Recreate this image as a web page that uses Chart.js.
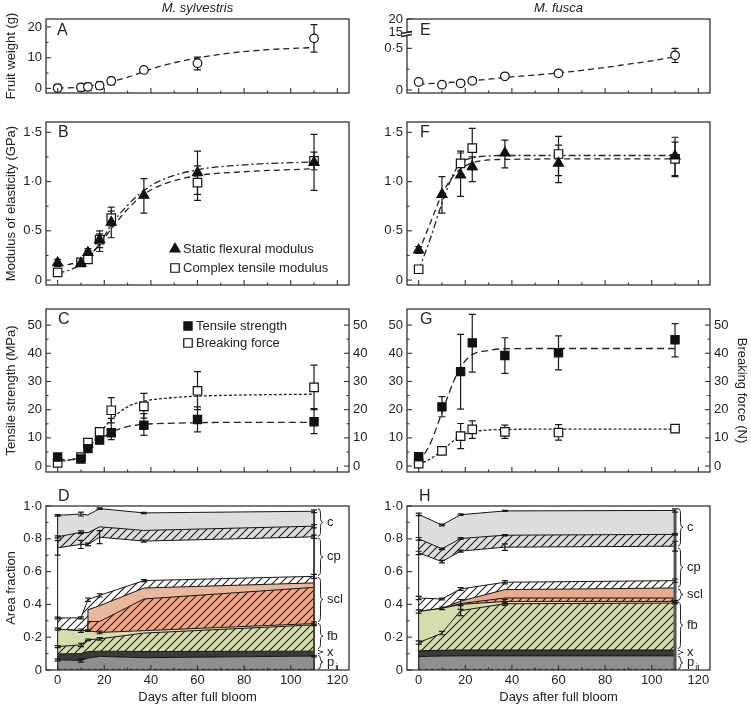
<!DOCTYPE html>
<html><head><meta charset="utf-8">
<script src="https://cdn.jsdelivr.net/npm/chart.js@4.4.1/dist/chart.umd.min.js"></script>
<style>
html,body{margin:0;padding:0;background:#fff;}
#wrap{position:relative;width:751px;height:705px;overflow:hidden;background:#fff;}
#wrap canvas{position:absolute;left:0;top:0;}
</style>
</head><body><div id="wrap"></div>
<script>
// ---------------- DATA ----------------
const xTicks = [0,10,20,30,40,50,60,70,80,90,100,110,120];
const xLabelled = [0,20,40,60,80,100,120];

const aTicks = [0,5,10,15,20];           const aLabels = ['0','','10','','20'];
const eTicks = [0,0.25,0.5,0.696,0.852]; const eLabels = ['0','','0·5','15','20'];
const bTicks = [0,0.25,0.5,0.75,1,1.25,1.5]; const bLabels = ['0','','0·5','','1·0','','1·5'];
const cTicks = [0,5,10,15,20,25,30,35,40,45,50]; const cLabels = ['0','','10','','20','','30','','40','','50'];
const dTicks = [0,0.1,0.2,0.3,0.4,0.5,0.6,0.7,0.8,0.9,1.0]; const dLabels = ['0','','0·2','','0·4','','0·6','','0·8','','1·0'];

const sylDays = [0,10,13,18,23,37,60,110];
const fusDays = [0,10,18,23,37,60,110];

// A: M. sylvestris fruit weight (g)
const sylWeight   = [0.1,0.3,0.5,0.9,2.4,6.0,8.2,16.3];
const sylWeightLo = [-1.1,-0.9,-0.7,-0.3,1.2,5.3,6.0,11.8];
const sylWeightHi = [1.3,1.5,1.7,2.1,3.6,6.7,10.2,20.8];
const aFitDays = [0,10,13,18,23,30,37,45,60,75,90,110];
const aFit     = [0.1,0.4,0.7,1.3,2.2,3.6,5.5,7.4,9.9,11.6,12.6,13.3];

// E: M. fusca fruit weight (g)
const fusWeight   = [0.096,0.064,0.08,0.11,0.164,0.2,0.416];
const fusWeightLo = [0.08,0.05,0.065,0.095,0.15,0.19,0.33];
const fusWeightHi = [0.11,0.078,0.095,0.125,0.178,0.21,0.50];
const eFitDays = [0,10,20,30,37,50,60,70,80,90,100,110];
const eFit     = [0.07,0.085,0.105,0.13,0.15,0.18,0.205,0.235,0.27,0.31,0.35,0.40];

// B: M. sylvestris modulus (GPa)
const sylFlex   = [0.176,0.17,0.28,0.41,0.586,0.86,1.09,1.195];
const sylFlexLo = [0.14,0.14,0.24,0.29,0.43,0.68,0.87,0.91];
const sylFlexHi = [0.21,0.2,0.32,0.5,0.74,1.03,1.31,1.48];
const sylModDays = [0,10,13,18,23,60,110];
const sylMod   = [0.078,0.18,0.21,0.41,0.63,0.99,1.21];
const sylModLo = [0.06,0.15,0.17,0.33,0.55,0.81,1.12];
const sylModHi = [0.10,0.21,0.30,0.47,0.70,1.16,1.30];
const bFitDays = [0,5,10,13,18,23,30,37,45,60,80,110];
const bFitFlex = [0.14,0.16,0.19,0.24,0.36,0.52,0.72,0.87,0.97,1.06,1.10,1.13];
const bFitMod  = [0.07,0.10,0.16,0.22,0.37,0.56,0.76,0.91,1.02,1.12,1.17,1.20];

// F: M. fusca modulus (GPa)
const fusFlex   = [0.305,0.87,1.067,1.15,1.29,1.185,1.26];
const fusFlexLo = [0.27,0.68,0.85,1.0,1.14,0.99,1.06];
const fusFlexHi = [0.34,1.05,1.31,1.25,1.42,1.37,1.45];
const fusModDays = [0,18,23,60,110];
const fusMod   = [0.11,1.185,1.34,1.28,1.23];
const fusModLo = [0.09,1.05,1.12,1.06,1.05];
const fusModHi = [0.13,1.29,1.54,1.46,1.40];
const fFitDays = [0,5,10,15,18,23,30,37,60,110];
const fFitFlex = [0.28,0.58,0.87,1.06,1.13,1.19,1.22,1.225,1.23,1.23];
const fFitMod  = [0.10,0.42,0.78,1.08,1.19,1.24,1.26,1.265,1.265,1.265];

// C: M. sylvestris tensile strength (MPa) / breaking force (N)
const sylStrength   = [3.2,2.5,6.2,9.2,11.8,14.5,16.5,15.7];
const sylStrengthLo = [2.5,1.8,5.3,8.0,9.4,10.9,12.1,11.5];
const sylStrengthHi = [4.0,3.2,7.0,10.5,16.9,18.6,21.0,20.4];
const sylForce   = [1.1,3.2,8.3,12.1,19.8,21.2,26.7,27.9];
const sylForceLo = [0.5,2.5,7.3,10.8,15.3,17.0,20.0,20.0];
const sylForceHi = [1.7,4.0,9.3,13.4,24.3,25.8,33.5,35.8];
const cFitDays = [0,5,10,13,18,23,30,37,50,60,80,110];
const cFitStrength = [2.5,2.2,3.0,5.0,9.0,12.0,14.0,14.8,15.2,15.4,15.5,15.5];
const cFitForce    = [1.5,2.2,3.5,6.0,11.5,16.5,21.0,23.0,24.3,24.8,25.2,25.5];

// G: M. fusca tensile strength (MPa) / breaking force (N)
const fusStrength   = [3.3,21.0,33.5,43.7,39.2,40.2,44.8];
const fusStrengthLo = [2.5,17.5,20.2,33.3,32.9,34.1,38.7];
const fusStrengthHi = [4.1,24.6,46.7,53.8,45.5,46.2,50.5];
const fusForce   = [0.9,5.4,10.6,13.0,12.1,11.9,13.3];
const fusForceLo = [0.3,4.8,6.2,9.8,9.8,9.2,12.1];
const fusForceHi = [1.5,6.0,15.1,16.0,14.5,14.7,14.5];
const gFitDays = [0,5,10,15,18,22,30,37,60,110];
const gFitStrength = [1.0,8.0,19.0,30.0,35.0,39.0,41.0,41.6,41.7,41.7];
const gFitForce    = [0.5,2.5,5.5,9.0,10.8,12.0,12.8,13.0,13.1,13.1];

// D: M. sylvestris area fraction boundaries (cumulative)
const dDays = [0,10,13,13,18,37,110];
const dBase       = [0,0,0,0,0,0,0];
const dBottomDash = [0.004,0.004,0.004,0.004,0.004,0.004,0.004];
const dPTop        = [0.062,0.058,0.072,0.072,0.083,0.075,0.085];
const dXTop        = [0.098,0.100,0.112,0.112,0.115,0.113,0.115];
const dFbHatchTop  = [0.143,0.153,0.184,0.184,0.190,0.225,0.275];
const dFbTop       = [0.249,0.240,0.240,0.240,0.229,0.240,0.283];
const dSclHatchTop = [0.249,0.240,0.240,0.296,0.296,0.433,0.504];
const dSclTop      = [0.249,0.240,0.240,0.367,0.392,0.500,0.531];
const dWhiteTop    = [0.317,0.318,0.429,0.429,0.455,0.545,0.571];
const dCpTop       = [0.745,0.766,0.766,0.766,0.810,0.786,0.812];
const dCHatchTop   = [0.812,0.840,0.837,0.837,0.873,0.851,0.877];
const dCTop        = [0.943,0.951,0.945,0.945,0.984,0.958,0.968];
const dPTopErr     = [0.006,0.010,0,0,0,0,0.005];
const dFbHatchErr  = [0.006,0.010,0.005,0,0.008,0,0.005];
const dFbTopErr    = [0.006,0.010,0.005,0,0.008,0,0.010];
const dWhiteErr    = [0.005,0.006,0.010,0,0.010,0.006,0.012];
const dCpErr       = [0.045,0.025,0.008,0,0.040,0.006,0.010];
const dCHatchErr   = [0.006,0.008,0,0,0,0,0.010];
const dCTopErr     = [0.005,0.012,0,0,0.005,0.004,0.008];
const dBraceFrom = [0.81,0.57,0.29,0.125,0.095,0];
const dBraceTo   = [0.99,0.81,0.57,0.29,0.125,0.095];
const braceLabels = ['c','cp','scl','fb','x','p'];

// H: M. fusca area fraction boundaries (cumulative)
const hDays = [0,10,18,37,110];
const hBase       = [0,0,0,0,0];
const hBottomDash = [0.004,0.004,0.004,0.004,0.004];
const hPTop        = [0.082,0.085,0.086,0.086,0.086];
const hXTop        = [0.118,0.120,0.122,0.122,0.122];
const hFbHatchTop  = [0.167,0.225,0.362,0.404,0.408];
const hFbTop       = [0.357,0.376,0.400,0.418,0.418];
const hSclHatchTop = [0.357,0.376,0.405,0.439,0.439];
const hSclTop      = [0.357,0.376,0.420,0.490,0.500];
const hWhiteTop    = [0.439,0.433,0.494,0.535,0.545];
const hCpTop       = [0.714,0.661,0.725,0.749,0.755];
const hCHatchTop   = [0.800,0.739,0.802,0.822,0.827];
const hCTop        = [0.949,0.884,0.947,0.970,0.973];
const hFbHatchErr  = [0.010,0.010,0.030,0.010,0.005];
const hFbTopErr    = [0.010,0.008,0.030,0.012,0.005];
const hWhiteErr    = [0.010,0.005,0.008,0.010,0.010];
const hCpErr       = [0.010,0.008,0.006,0.020,0.030];
const hCHatchErr   = [0.008,0.005,0.005,0.004,0.005];
const hCTopErr     = [0.008,0.005,0.005,0.003,0.010];
const hBraceFrom = [0.75,0.50,0.42,0.125,0.09,0];
const hBraceTo   = [0.99,0.75,0.50,0.42,0.125,0.09];

// ---------------- HELPERS ----------------
const FF = "'Liberation Sans', Arial, Helvetica, sans-serif";
Chart.defaults.font.family = FF;
Chart.defaults.font.size = 13;
Chart.defaults.color = '#222';

const pts = (xs, ys) => xs.map((x, i) => ({x, y: ys[i]}));

function hatch(bg) {
  const c = document.createElement('canvas'); c.width = 8; c.height = 8;
  const g = c.getContext('2d');
  g.fillStyle = bg; g.fillRect(0, 0, 8, 8);
  g.strokeStyle = '#1e1e1e'; g.lineWidth = 1.1;
  g.beginPath();
  g.moveTo(0, 8); g.lineTo(8, 0);
  g.moveTo(-2, 2); g.lineTo(2, -2);
  g.moveTo(6, 10); g.lineTo(10, 6);
  g.stroke();
  return g.createPattern(c, 'repeat');
}

function marker(ctx, style, filled, x, y, r) {
  ctx.beginPath();
  if (style === 'triangle') { ctx.moveTo(x, y - r); ctx.lineTo(x + r * 0.866, y + r / 2); ctx.lineTo(x - r * 0.866, y + r / 2); ctx.closePath(); }
  else if (style === 'rect') { const s = r * Math.SQRT1_2; ctx.rect(x - s, y - s, 2 * s, 2 * s); }
  else ctx.arc(x, y, r, 0, Math.PI * 2);
  ctx.fillStyle = filled ? '#111' : '#fff'; ctx.fill();
  ctx.strokeStyle = '#111'; ctx.lineWidth = 1.2; ctx.stroke();
}

function drawErrors(chart) {
  const ctx = chart.ctx;
  chart.data.datasets.forEach((ds, i) => {
    if (!ds.errLo && !ds.errSym) return;
    const meta = chart.getDatasetMeta(i);
    const ys = chart.scales[meta.yAxisID];
    ctx.save(); ctx.strokeStyle = '#1a1a1a'; ctx.lineWidth = 1.2;
    meta.data.forEach((pt, j) => {
      let lo, hi;
      if (ds.errSym) { const e = ds.errSym[j]; if (!e) return; lo = ds.data[j].y - e; hi = ds.data[j].y + e; }
      else { lo = ds.errLo[j]; hi = ds.errHi[j]; }
      const x = pt.x, y1 = ys.getPixelForValue(lo), y2 = ys.getPixelForValue(hi);
      const cw = ds.capW || 3.5;
      ctx.beginPath();
      ctx.moveTo(x, y1); ctx.lineTo(x, y2);
      ctx.moveTo(x - cw, y1); ctx.lineTo(x + cw, y1);
      ctx.moveTo(x - cw, y2); ctx.lineTo(x + cw, y2);
      ctx.stroke();
    });
    ctx.restore();
  });
}

function drawFrame(chart) {
  const {ctx, chartArea: a} = chart;
  ctx.save();
  ctx.strokeStyle = '#333'; ctx.lineWidth = 1.3;
  ctx.strokeRect(a.left, a.top, a.right - a.left, a.bottom - a.top);
  ctx.lineWidth = 1.1;
  Object.values(chart.scales).forEach(s => {
    const horiz = s.isHorizontal();
    (s.ticks || []).forEach(t => {
      const major = horiz ? xLabelled.includes(t.value) : (t.label !== '' && t.label != null);
      const len = major ? 5 : 2.5;
      const p = s.getPixelForValue(t.value);
      ctx.beginPath();
      if (horiz) { ctx.moveTo(p, a.bottom); ctx.lineTo(p, a.bottom - len); }
      else if (s.position === 'left') { ctx.moveTo(a.left, p); ctx.lineTo(a.left + len, p); }
      else { ctx.moveTo(a.right, p); ctx.lineTo(a.right - len, p); }
      ctx.stroke();
    });
  });
  ctx.restore();
}

function brace(ctx, x, y1, y2, w) {
  const m = (y1 + y2) / 2;
  const k = Math.min(w, (y2 - y1) / 4);
  ctx.beginPath();
  ctx.moveTo(x, y1);
  ctx.quadraticCurveTo(x + w / 2, y1, x + w / 2, y1 + k);
  ctx.lineTo(x + w / 2, m - k);
  ctx.quadraticCurveTo(x + w / 2, m, x + w, m);
  ctx.quadraticCurveTo(x + w / 2, m, x + w / 2, m + k);
  ctx.lineTo(x + w / 2, y2 - k);
  ctx.quadraticCurveTo(x + w / 2, y2, x, y2);
  ctx.stroke();
}

function drawTexts(chart, o) {
  const ctx = chart.ctx, a = chart.chartArea;
  ctx.save();
  ctx.fillStyle = '#222';
  if (o.title) {
    ctx.font = `italic 13px ${FF}`; ctx.textAlign = 'center'; ctx.textBaseline = 'middle';
    ctx.fillText(o.title, (a.left + a.right) / 2, 8);
  }
  if (o.letter) {
    ctx.font = `16px ${FF}`; ctx.textAlign = 'left'; ctx.textBaseline = 'middle';
    ctx.fillText(o.letter[0], o.letter[1], o.letter[2]);
  }
  if (o.legend) {
    o.legend.forEach(it => {
      const ds = chart.data.datasets[it.ds];
      marker(ctx, ds.pointStyle, ds.filledMarker, it.x, it.y, ds.legendR || ds.pointRadius);
      ctx.fillStyle = '#222'; ctx.font = `13px ${FF}`; ctx.textAlign = 'left'; ctx.textBaseline = 'middle';
      ctx.fillText(ds.label, it.x + 8, it.y + 0.5);
    });
  }
  if (o.braces) {
    const ys = chart.scales.y, b = o.braces;
    ctx.strokeStyle = '#222'; ctx.lineWidth = 1;
    b.from.forEach((f, i) => {
      const y1 = ys.getPixelForValue(b.to[i]), y2 = ys.getPixelForValue(f);
      brace(ctx, b.x, y1 + 1, y2 - 1, 5);
      const m = (y1 + y2) / 2;
      ctx.fillStyle = '#222'; ctx.font = `13px ${FF}`; ctx.textAlign = 'left'; ctx.textBaseline = 'middle';
      ctx.fillText(b.labels[i], b.x + 9, m);
      if (b.labels[i] === 'p') {
        const w = ctx.measureText('p').width;
        ctx.font = `9px ${FF}`;
        ctx.fillText('i', b.x + 9 + w + 1, m + 5);
      }
    });
  }
  if (o.breakAt !== undefined) {
    const p = chart.scales.y.getPixelForValue(o.breakAt);
    ctx.fillStyle = '#fff'; ctx.fillRect(a.left - 2, p - 2, 4, 4);
    ctx.strokeStyle = '#222'; ctx.lineWidth = 1.4;
    ctx.beginPath();
    ctx.moveTo(a.left - 6, p - 0.5); ctx.lineTo(a.left + 5, p - 2.5);
    ctx.moveTo(a.left - 6, p + 2.5); ctx.lineTo(a.left + 5, p + 0.5);
    ctx.stroke();
  }
  ctx.restore();
}

const decoPlugin = {
  id: 'deco',
  beforeDatasetsDraw(chart, args, o) { if (!o.errAfter) drawErrors(chart); },
  afterDatasetsDraw(chart, args, o) { if (o.errAfter) drawErrors(chart); drawFrame(chart); },
  afterDraw(chart, args, o) { drawTexts(chart, o); }
};

function markerDS(label, xs, ys, style, filled, lo, hi, r, axis) {
  return {label, data: pts(xs, ys), showLine: false, pointStyle: style, pointRadius: r, pointHoverRadius: r,
    pointBackgroundColor: filled ? '#111' : '#fff', pointBorderColor: '#111', pointBorderWidth: 1.2,
    borderColor: '#111', backgroundColor: filled ? '#111' : '#fff', filledMarker: filled,
    errLo: lo, errHi: hi, yAxisID: axis || 'y', fill: false};
}
function fitDS(xs, ys, dash, axis) {
  return {label: 'fit', data: pts(xs, ys), showLine: true, pointRadius: 0, borderColor: '#222', borderWidth: 1.3,
    borderDash: dash, cubicInterpolationMode: 'monotone', fill: false, yAxisID: axis || 'y'};
}
function layerDS(xs, ys, bg, fill, err, color, lw, dash) {
  return {label: 'layer', data: pts(xs, ys), showLine: true, pointRadius: 0, borderColor: color || '#151515',
    borderWidth: lw === undefined ? 1 : lw, backgroundColor: bg || 'rgba(0,0,0,0)', fill: fill, tension: 0,
    errSym: err, capW: 3, borderDash: dash || [], yAxisID: 'y'};
}

function panel(g, o) {
  const leftPad = g.l < 375 ? 0 : 375;
  const yW = g.l - leftPad;
  const rW = o.y2 ? o.y2.width : 0;
  const padRight = 751 - g.r - rW;
  const xH = o.xTitle ? 705 - g.b : 0;
  const padBottom = 705 - g.b - xH;
  const yAxis = (ax, pos, w) => ({
    type: 'linear', position: pos, min: ax.min, max: ax.max,
    afterBuildTicks: s => { s.ticks = ax.ticks.map(v => ({value: v})); },
    afterFit: s => { s.width = w; },
    ticks: {autoSkip: false, padding: 4, callback: (v, i) => ax.labels[i], color: '#222', font: {size: 13}},
    grid: {display: false, drawTicks: false}, border: {display: false},
    title: ax.title ? {display: true, text: ax.title, color: '#222', font: {size: 13}, padding: ax.titlePad || {top: 4, bottom: 4}} : {display: false}
  });
  const scales = {
    x: {type: 'linear', min: -5, max: 125,
      afterBuildTicks: s => { s.ticks = xTicks.map(v => ({value: v})); },
      afterFit: s => { s.height = xH; },
      ticks: {display: !!o.xTitle, autoSkip: false, maxRotation: 0, padding: 3, color: '#222', font: {size: 13},
        callback: v => xLabelled.includes(v) ? String(v) : ''},
      grid: {display: false, drawTicks: false}, border: {display: false},
      title: o.xTitle ? {display: true, text: o.xTitle, color: '#222', font: {size: 13}, padding: {top: 0, bottom: 0}} : {display: false}
    },
    y: yAxis(o.y, 'left', yW)
  };
  if (o.y2) scales.y2 = yAxis(o.y2, 'right', rW);
  const cv = document.createElement('canvas');
  cv.width = 751; cv.height = 705;
  document.getElementById('wrap').appendChild(cv);
  return new Chart(cv, {
    type: 'line',
    data: {datasets: o.datasets},
    options: {
      responsive: false, animation: false, events: [],
      layout: {padding: {left: leftPad, right: padRight, top: g.t, bottom: padBottom}},
      scales,
      plugins: {legend: {display: false}, tooltip: {enabled: false}, deco: o.deco}
    },
    plugins: [decoPlugin]
  });
}

// ---------------- PANELS ----------------
const colL = {l: 46, r: 349}, colR = {l: 407, r: 710};
const rowA = {t: 19, b: 93}, rowB = {t: 122, b: 285}, rowC = {t: 309, b: 472}, rowD = {t: 506, b: 670};
const G = (c, r) => Object.assign({}, c, r);

// A
panel(G(colL, rowA), {
  y: {min: -1.5, max: 22.6, ticks: aTicks, labels: aLabels, title: 'Fruit weight (g)'},
  datasets: [
    markerDS('Fruit weight', sylDays, sylWeight, 'circle', false, sylWeightLo, sylWeightHi, 4.3),
    fitDS(aFitDays, aFit, [6, 4])
  ],
  deco: {title: 'M. sylvestris', letter: ['A', 57, 31]}
});
// E
panel(G(colR, rowA), {
  y: {min: -0.036, max: 0.852, ticks: eTicks, labels: eLabels},
  datasets: [
    markerDS('Fruit weight', fusDays, fusWeight, 'circle', false, fusWeightLo, fusWeightHi, 4.3),
    fitDS(eFitDays, eFit, [6, 4])
  ],
  deco: {title: 'M. fusca', letter: ['E', 420, 31], breakAt: 0.672}
});
// B
panel(G(colL, rowB), {
  y: {min: -0.05, max: 1.605, ticks: bTicks, labels: bLabels, title: 'Modulus of elasticity (GPa)'},
  datasets: [
    markerDS('Static flexural modulus', sylDays, sylFlex, 'triangle', true, sylFlexLo, sylFlexHi, 5.8),
    markerDS('Complex tensile modulus', sylModDays, sylMod, 'rect', false, sylModLo, sylModHi, 6),
    fitDS(bFitDays, bFitFlex, [6, 4]),
    fitDS(bFitDays, bFitMod, [7, 3, 2, 3])
  ],
  deco: {letter: ['B', 58, 133], legend: [{ds: 0, x: 175, y: 249}, {ds: 1, x: 175, y: 268}]}
});
// F
panel(G(colR, rowB), {
  y: {min: -0.05, max: 1.605, ticks: bTicks, labels: bLabels},
  datasets: [
    markerDS('Static flexural modulus', fusDays, fusFlex, 'triangle', true, fusFlexLo, fusFlexHi, 5.8),
    markerDS('Complex tensile modulus', fusModDays, fusMod, 'rect', false, fusModLo, fusModHi, 6),
    fitDS(fFitDays, fFitFlex, [6, 4]),
    fitDS(fFitDays, fFitMod, [7, 3, 2, 3])
  ],
  deco: {letter: ['F', 420, 133]}
});
// C
panel(G(colL, rowC), {
  y: {min: -2.1, max: 55.7, ticks: cTicks, labels: cLabels, title: 'Tensile strength (MPa)'},
  y2: {min: -2.1, max: 55.7, ticks: cTicks, labels: cLabels, width: 30},
  datasets: [
    markerDS('Tensile strength', sylDays, sylStrength, 'rect', true, sylStrengthLo, sylStrengthHi, 5.8),
    markerDS('Breaking force', sylDays, sylForce, 'rect', false, sylForceLo, sylForceHi, 6, 'y2'),
    fitDS(cFitDays, cFitStrength, [7, 4]),
    fitDS(cFitDays, cFitForce, [3, 2], 'y2')
  ],
  deco: {letter: ['C', 58, 320], legend: [{ds: 0, x: 188, y: 326}, {ds: 1, x: 188, y: 343}]}
});
// G
panel(G(colR, rowC), {
  y: {min: -2.1, max: 55.7, ticks: cTicks, labels: cLabels},
  y2: {min: -2.1, max: 55.7, ticks: cTicks, labels: cLabels, width: 41, title: 'Breaking force (N)', titlePad: {top: 1.5, bottom: 4}},
  datasets: [
    markerDS('Tensile strength', fusDays, fusStrength, 'rect', true, fusStrengthLo, fusStrengthHi, 5.8),
    markerDS('Breaking force', fusDays, fusForce, 'rect', false, fusForceLo, fusForceHi, 6, 'y2'),
    fitDS(gFitDays, gFitStrength, [7, 4]),
    fitDS(gFitDays, gFitForce, [3, 2], 'y2')
  ],
  deco: {letter: ['G', 420, 320]}
});

// Area colours
const C_P = '#8f8f8f', C_X = '#3a3a3a', C_FB = '#d7dcad', C_SCLH = '#f3a584', C_C = '#dcdddd';

// D
panel(G(colL, rowD), {
  xTitle: 'Days after full bloom',
  y: {min: 0, max: 1.0, ticks: dTicks, labels: dLabels, title: 'Area fraction'},
  datasets: [
    layerDS([dDays[0], dDays[0]], [0, dCTop[0]], null, false, null, '#111', 1),
    layerDS([dDays[dDays.length - 1], dDays[dDays.length - 1]], [0, dCTop[dCTop.length - 1]], null, false, null, '#444', 2),
    layerDS(dDays, dBottomDash, null, false, null, '#111', 1, [3, 3]),
    layerDS(dDays, dBase, null, false, null, '#111', 0),
    layerDS(dDays, dPTop, C_P, '-1', dPTopErr),
    layerDS(dDays, dXTop, C_X, '-1', null),
    layerDS(dDays, dFbHatchTop, hatch(C_FB), '-1', dFbHatchErr),
    layerDS(dDays, dFbTop, C_FB, '-1', dFbTopErr),
    layerDS(dDays, dSclHatchTop, hatch(C_SCLH), '-1', null),
    layerDS(dDays, dSclTop, '#e9b89a', '-1', null),
    layerDS(dDays, dWhiteTop, hatch('#ffffff'), '-1', dWhiteErr),
    layerDS(dDays, dCpTop, null, false, dCpErr),
    layerDS(dDays, dCHatchTop, hatch(C_C), '-1', dCHatchErr),
    layerDS(dDays, dCTop, C_C, '-1', dCTopErr)
  ],
  deco: {letter: ['D', 58, 497], errAfter: true, braces: {x: 318, from: dBraceFrom, to: dBraceTo, labels: braceLabels}}
});
// H
panel(G(colR, rowD), {
  xTitle: 'Days after full bloom',
  y: {min: 0, max: 1.0, ticks: dTicks, labels: dLabels},
  datasets: [
    layerDS([hDays[0], hDays[0]], [0, hCTop[0]], null, false, null, '#111', 1),
    layerDS([hDays[hDays.length - 1], hDays[hDays.length - 1]], [0, hCTop[hCTop.length - 1]], null, false, null, '#555', 3),
    layerDS(hDays, hBottomDash, null, false, null, '#111', 1, [3, 3]),
    layerDS(hDays, hBase, null, false, null, '#111', 0),
    layerDS(hDays, hPTop, C_P, '-1', null),
    layerDS(hDays, hXTop, C_X, '-1', null),
    layerDS(hDays, hFbHatchTop, hatch(C_FB), '-1', hFbHatchErr),
    layerDS(hDays, hFbTop, C_FB, '-1', hFbTopErr),
    layerDS(hDays, hSclHatchTop, hatch(C_SCLH), '-1', null),
    layerDS(hDays, hSclTop, '#e8ab8c', '-1', null),
    layerDS(hDays, hWhiteTop, hatch('#ffffff'), '-1', hWhiteErr),
    layerDS(hDays, hCpTop, null, false, hCpErr),
    layerDS(hDays, hCHatchTop, hatch(C_C), '-1', hCHatchErr),
    layerDS(hDays, hCTop, C_C, '-1', hCTopErr)
  ],
  deco: {letter: ['H', 419, 497], errAfter: true, braces: {x: 678, from: hBraceFrom, to: hBraceTo, labels: braceLabels}}
});
</script>
</body></html>
